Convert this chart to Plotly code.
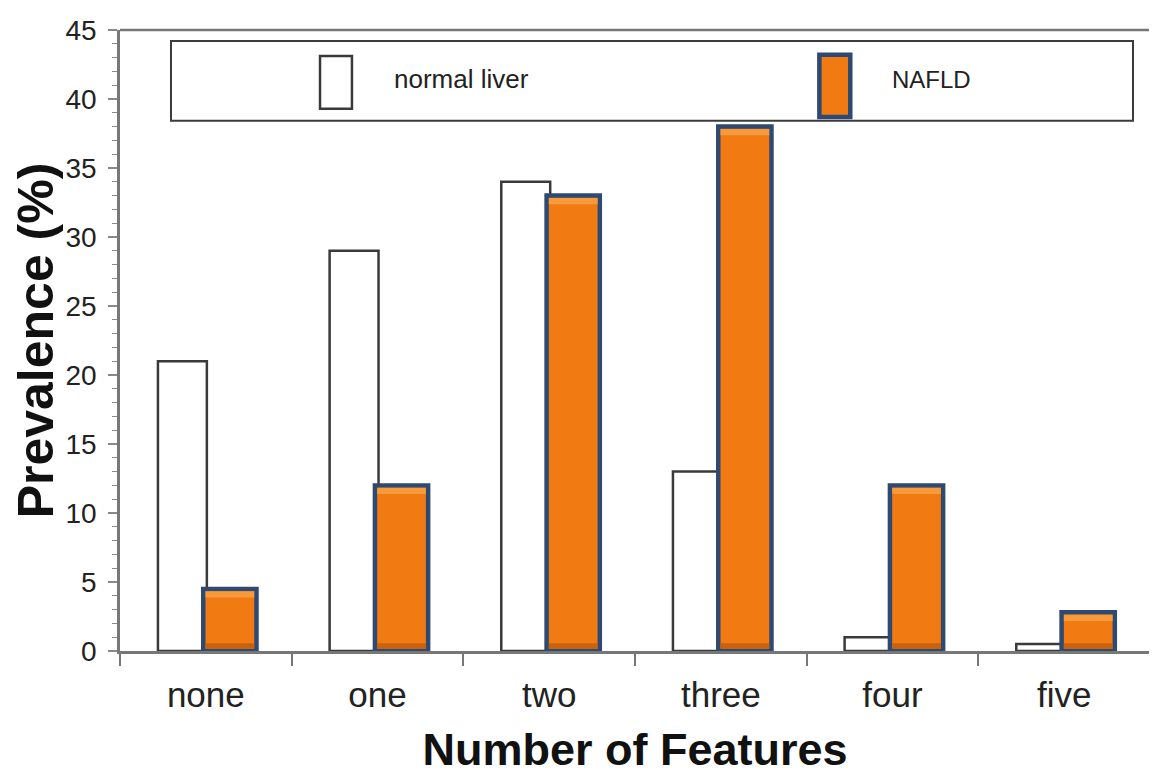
import plotly.graph_objects as go

categories = ["none", "one", "two", "three", "four", "five"]
normal_liver = [21, 29, 34, 13, 1, 0.5]
nafld = [4.5, 12, 33, 38, 12, 2.8]
series_names = ["normal liver", "NAFLD"]
y_ticks = [0, 5, 10, 15, 20, 25, 30, 35, 40, 45]

FONT = "Liberation Sans, Arial, sans-serif"
ORANGE = "#f27a12"
ORANGE_LIGHT = "#f79a3c"
ORANGE_DARK = "#c9620c"
NAVY = "#2e4a72"

fig = go.Figure()
fig.add_trace(go.Bar(
    x=categories, y=normal_liver, name=series_names[0],
    width=0.285, offset=-0.279,
    marker=dict(color="white", line=dict(color="#3a3a3a", width=2.5)),
    showlegend=False,
))
fig.add_trace(go.Bar(
    x=categories, y=nafld, name=series_names[1],
    width=0.31, offset=-0.015,
    marker=dict(color=ORANGE, line=dict(color=NAVY, width=4.5)),
    showlegend=False,
))
# bevel shading inside the NAFLD bars (thin bands derived from the same values)
fig.add_trace(go.Bar(
    x=categories, y=[0.45] * len(nafld), base=[v - 0.62 for v in nafld],
    width=0.284, offset=-0.002,
    marker=dict(color=ORANGE_LIGHT, line=dict(width=0)),
    showlegend=False, hoverinfo="skip",
))
fig.add_trace(go.Bar(
    x=categories, y=[0.4] * len(nafld), base=[0.17] * len(nafld),
    width=0.284, offset=-0.002,
    marker=dict(color=ORANGE_DARK, line=dict(width=0)),
    showlegend=False, hoverinfo="skip",
))

# custom legend (box, symbols, labels) in paper coordinates
shapes = [
    dict(type="rect", xref="paper", yref="paper", x0=0.0495, x1=0.9835, y0=0.854, y1=0.9824,
         line=dict(color="#3c3c3c", width=2), fillcolor="white", layer="below"),
    dict(type="rect", xref="paper", yref="paper", x0=0.1942, x1=0.2252, y0=0.873, y1=0.958,
         line=dict(color="#3a3a3a", width=2.5), fillcolor="white"),
    dict(type="rect", xref="paper", yref="paper", x0=0.6790, x1=0.7090, y0=0.860, y1=0.960,
         line=dict(color=NAVY, width=4.5), fillcolor=ORANGE),
    # right frame line
    dict(type="line", xref="paper", yref="paper", x0=1.0, x1=1.0, y0=-0.016, y1=1.003,
         line=dict(color="black", width=2)),
    # top frame line
    dict(type="line", xref="paper", yref="paper", x0=0, x1=1, y0=1, y1=1,
         line=dict(color="#777", width=2.5)),
]
annotations = [
    dict(xref="paper", yref="paper", x=0.2641, y=0.921, text=series_names[0], showarrow=False,
         xanchor="left", yanchor="middle", font=dict(family=FONT, size=26, color="#222")),
    dict(xref="paper", yref="paper", x=0.7476, y=0.921, text=series_names[1], showarrow=False,
         xanchor="left", yanchor="middle", font=dict(family=FONT, size=24, color="#222")),
]

fig.update_layout(
    width=1149, height=767,
    margin=dict(l=112, r=7, t=19, b=124),
    paper_bgcolor="white", plot_bgcolor="white",
    barmode="group",
    font=dict(family=FONT, color="#222"),
    shapes=shapes, annotations=annotations,
    xaxis=dict(
        type="category", categoryorder="array", categoryarray=categories,
        range=[-0.5, 5.5],
        tickson="boundaries", ticks="outside", ticklen=12, tickwidth=1.5, tickcolor="#777",
        showline=True, linecolor="#777", linewidth=2.5, mirror=False,
        showgrid=False, zeroline=False,
        tickfont=dict(size=35, color="#222", family=FONT),
        ticklabelstandoff=11,
        title=dict(text="<b>Number of Features</b>", font=dict(size=45, color="#111", family=FONT), standoff=22),
    ),
    yaxis=dict(
        range=[0, 45], tickvals=y_ticks, ticktext=[str(v) for v in y_ticks],
        ticks="outside", ticklen=9, tickwidth=1.5, tickcolor="#888",
        minor=dict(dtick=1, ticks="outside", ticklen=5, tickcolor="#888", tickwidth=1.2, showgrid=False),
        showline=True, linecolor="#777", linewidth=2.5,
        showgrid=False, zeroline=False,
        tickfont=dict(size=28, color="#222", family=FONT),
        ticklabelstandoff=6,
        title=dict(text="<b>Prevalence (%)</b>", font=dict(size=50, color="#111", family=FONT), standoff=6),
    ),
)

fig.write_html("out.html")
